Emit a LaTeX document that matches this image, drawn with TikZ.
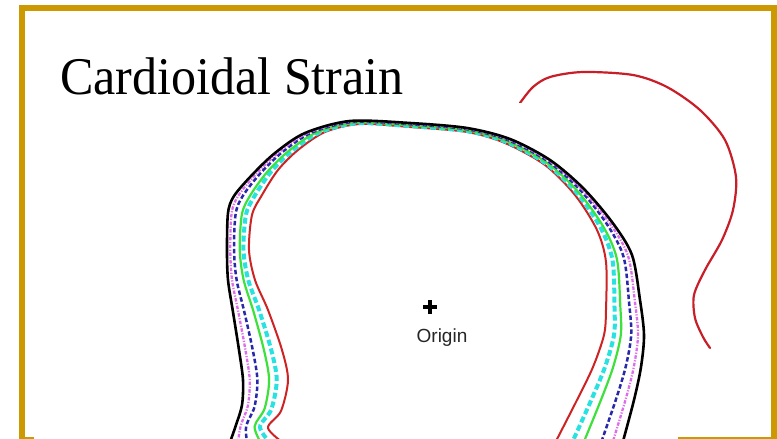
\documentclass[tikz,border=0pt]{standalone}
\usepackage{fontspec}
\usetikzlibrary{calc}
\newfontfamily\titlefont[FakeStretch=0.945]{Liberation Serif}
\newfontfamily\labelfont{Liberation Sans}
\definecolor{framegold}{RGB}{204,153,0}
\definecolor{loopred}{RGB}{200,30,40}
\definecolor{wallred}{RGB}{205,35,35}
\definecolor{wallcyan}{RGB}{40,225,225}
\definecolor{wallgreen}{RGB}{60,225,60}
\definecolor{wallnavy}{RGB}{40,40,170}
\definecolor{wallviolet}{RGB}{220,110,235}
\tikzset{
  wall/.style={line join=round},
  blackwall/.style={wall, black, line width=2.6pt},
  violetwall/.style={wall, wallviolet, line width=2.3pt, dash pattern=on 3.5pt off 1.5pt on 1.2pt off 1.5pt},
  navywall/.style={wall, wallnavy, line width=2.5pt, dash pattern=on 4.5pt off 2.5pt},
  greenwall/.style={wall, wallgreen, line width=2.2pt},
  cyanwall/.style={wall, wallcyan, line width=4pt, dash pattern=on 6pt off 3pt},
  redwall/.style={wall, wallred, line width=2pt},
  loopline/.style={loopred, line width=2.2pt, line cap=round}
}
% a wall line lying between the outer (b) and the inner (r) contour
\newcommand\layerline[2]{%
  \foreach \i in {1,...,26} \coordinate (m\i) at ($(b\i)!#2!(r\i)$);
  \draw[#1] plot[smooth, samples at={1,...,26}, variable=\i] (m\i);}

\begin{document}
\begin{tikzpicture}[x=1pt, y=-1pt]
  \clip (0,0) rectangle (777,439);
  \fill[white] (0,0) rectangle (777,439);
  % slide frame
  \draw[framegold, line width=6pt] (22,8) rectangle (774,440);
  % loop at the top right
  \draw[loopline] plot[smooth] coordinates {(520,103) (533,87) (550,77) (583,72)
    (633,75) (667,87) (700,110) (725,140) (736,177) (733,210) (722,240)
    (705,270) (694,295) (695,318) (703,337) (710,348)};
  % picture area
  \fill[white] (34,103) rectangle (678,450);
  \node[anchor=base west, inner sep=0pt, font={\titlefont\fontsize{53}{60}\selectfont}]
    (title) at (60,94) {Cardioidal Strain};

  % outer contour
  \foreach \x/\y [count=\i] in {229/445, 236/425, 242/405, 243/380, 239/350,
    233/312, 228/280, 227/250, 228/213, 234/196, 252/175, 275/153, 305/133,
    350/121, 410/123, 467/128, 510/139, 550/160, 583/188, 612/222, 632/255,
    640/300, 644/335, 641/367, 634/400, 622/445}
    \coordinate (b\i) at (\x,\y);
  % inner contour
  \foreach \x/\y [count=\i] in {286/445, 268/428, 281/411, 288/380, 282/350,
    268/310, 255/280, 249/250, 252/215, 262/195, 278/170, 298/150, 325/132,
    360/124, 410/127, 467/132, 505/143, 545/165, 575/195, 597/230, 606/262,
    606/310, 604/335, 593/367, 577/400, 554/445}
    \coordinate (r\i) at (\x,\y);

  \draw[redwall] plot[smooth, samples at={1,...,26}, variable=\i] (r\i);
  \layerline{cyanwall}{0.75}
  \layerline{greenwall}{0.58}
  \layerline{navywall}{0.32}
  \layerline{violetwall}{0.15}
  \draw[blackwall] plot[smooth, samples at={1,...,26}, variable=\i] (b\i);

  % origin marker
  \coordinate (orig) at (430,307);
  \draw[line width=3.2pt] (orig) +(-7,0) -- +(7,0) (orig) +(0,-7) -- +(0,7);
  \node[font={\labelfont\fontsize{19}{22}\selectfont}, text=black!85]
    (origin) at (442,338) {Origin};
\end{tikzpicture}
\end{document}
